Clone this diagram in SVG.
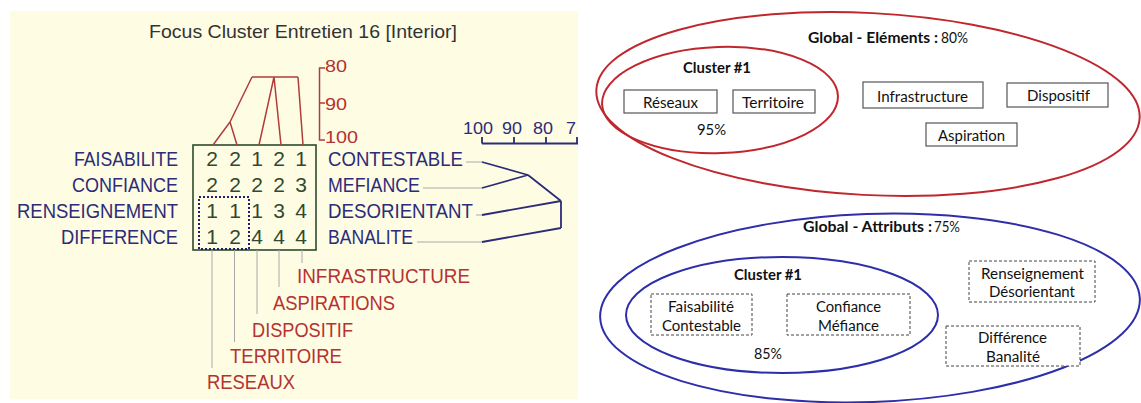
<svg xmlns="http://www.w3.org/2000/svg" width="1141" height="403" viewBox="0 0 1141 403">
<style>
.lt{font-family:"Liberation Sans",Arial,sans-serif;font-size:21px}
.nv{fill:#2c2c78}
.rd{fill:#b53232}
.num{fill:#33482f;text-anchor:middle}
.sc{font-family:"Liberation Sans",Arial,sans-serif;font-size:17px}
.rt{font-family:Lato,"Open Sans",sans-serif;font-size:15.5px;fill:#111}
.b{font-weight:bold}
.box{fill:#fff;stroke:#555;stroke-width:1.2}
.dbox{fill:#fff;stroke:#444;stroke-width:1;stroke-dasharray:3,2}
.lead{stroke:#a8a8a8;stroke-width:1;fill:none}
.rl{stroke:#b03c3c;stroke-width:1.5;fill:none}
.bl{stroke:#2c2c78;stroke-width:1.8;fill:none}
.re{fill:none;stroke:#c0272d;stroke-width:2}
.be{fill:none;stroke:#2e2eaa;stroke-width:2}
</style>
<defs>
<clipPath id="lp"><rect x="10" y="11" width="568" height="388"/></clipPath>
</defs>
<rect width="1141" height="403" fill="#fff"/>
<g id="left-panel" clip-path="url(#lp)">
<rect x="10" y="11" width="568" height="388" fill="#fefde4"/>
<text x="149" y="38" font-family="Liberation Sans,Arial,sans-serif" font-size="19" fill="#333" textLength="308" lengthAdjust="spacingAndGlyphs">Focus Cluster Entretien 16 [Interior]</text>
<g id="scale-top">
<path class="rl" d="M325,68 L319.5,68 L319.5,140 L325,140 M319.5,103 L325,103"/>
<text class="sc rd" x="325" y="72" textLength="22" lengthAdjust="spacingAndGlyphs">80</text>
<text class="sc rd" x="325" y="110" textLength="22" lengthAdjust="spacingAndGlyphs">90</text>
<text class="sc rd" x="325" y="143" textLength="33" lengthAdjust="spacingAndGlyphs">100</text>
</g>
<g id="scale-right">
<text class="sc nv" x="463" y="134" textLength="30" lengthAdjust="spacingAndGlyphs">100</text>
<text class="sc nv" x="502" y="134" textLength="20" lengthAdjust="spacingAndGlyphs">90</text>
<text class="sc nv" x="533" y="134" textLength="20" lengthAdjust="spacingAndGlyphs">80</text>
<text class="sc nv" x="566" y="134" textLength="10" lengthAdjust="spacingAndGlyphs">7</text>
<path class="bl" d="M482,143.5 L580,143.5 M482,137 L482,143.5 M514,137 L514,143.5 M546,137 L546,143.5 M577,137 L577,143.5"/>
</g>
<g id="grid">
<rect x="193" y="145" width="123" height="105" fill="none" stroke="#2c4a2c" stroke-width="1.6"/>
<rect x="199" y="197" width="50" height="52" fill="none" stroke="#1f1f70" stroke-width="2" stroke-dasharray="2,2"/>
<g class="lt num">
<text x="212" y="166">2</text><text x="235" y="166">2</text><text x="257" y="166">1</text><text x="279" y="166">2</text><text x="301" y="166">1</text>
<text x="212" y="191.5">2</text><text x="235" y="191.5">2</text><text x="257" y="191.5">2</text><text x="279" y="191.5">2</text><text x="301" y="191.5">3</text>
<text x="212" y="218">1</text><text x="235" y="218">1</text><text x="257" y="218">1</text><text x="279" y="218">3</text><text x="301" y="218">4</text>
<text x="212" y="243.5">1</text><text x="235" y="243.5">2</text><text x="257" y="243.5">4</text><text x="279" y="243.5">4</text><text x="301" y="243.5">4</text>
</g>
</g>
<g id="row-labels" class="lt nv">
<text x="74" y="166" textLength="104" lengthAdjust="spacingAndGlyphs">FAISABILITE</text>
<text x="72" y="191.5" textLength="106" lengthAdjust="spacingAndGlyphs">CONFIANCE</text>
<text x="17" y="218" textLength="161" lengthAdjust="spacingAndGlyphs">RENSEIGNEMENT</text>
<text x="61" y="243.5" textLength="117" lengthAdjust="spacingAndGlyphs">DIFFERENCE</text>
<text x="328" y="166" textLength="135" lengthAdjust="spacingAndGlyphs">CONTESTABLE</text>
<text x="328" y="191.5" textLength="92" lengthAdjust="spacingAndGlyphs">MEFIANCE</text>
<text x="328" y="218" textLength="145" lengthAdjust="spacingAndGlyphs">DESORIENTANT</text>
<text x="328" y="243.5" textLength="85" lengthAdjust="spacingAndGlyphs">BANALITE</text>
</g>
<g id="col-labels" class="lt rd">
<text x="297" y="283" textLength="173" lengthAdjust="spacingAndGlyphs">INFRASTRUCTURE</text>
<text x="273" y="310" textLength="122" lengthAdjust="spacingAndGlyphs">ASPIRATIONS</text>
<text x="252" y="337" textLength="101" lengthAdjust="spacingAndGlyphs">DISPOSITIF</text>
<text x="230" y="363" textLength="112" lengthAdjust="spacingAndGlyphs">TERRITOIRE</text>
<text x="207" y="389" textLength="88" lengthAdjust="spacingAndGlyphs">RESEAUX</text>
</g>
<g id="connectors-left">
<path class="lead" d="M212,250 L212,368 M234.5,250 L234.5,342 M257,250 L257,314 M279,250 L279,287 M302,250 L302,263"/>
<path class="rl" d="M213,145 L230,122 M237,145 L230,122 M230,122 L252,77 M252,77 L298,77 M259,145 L274,77 M281,145 L274,77 M303,145 L298,77"/>
<path class="lead" d="M466,162 L482,162 M423,188 L482,188 M476,215 L482,215 M417,242 L482,242"/>
<path class="bl" d="M482,162 L528,175 M482,188 L528,175 M528,175 L561,201 M482,215 L561,201 M561,201 L561,228 M482,242 L561,228"/>
</g>
</g>
<g id="elements">
<ellipse class="re" cx="868" cy="104" rx="272" ry="91" transform="rotate(3 868 104)"/>
<text class="rt b" x="808" y="43" textLength="130" lengthAdjust="spacingAndGlyphs">Global - Eléments :</text>
<text class="rt" x="941" y="43" textLength="27" lengthAdjust="spacingAndGlyphs">80%</text>
<g id="cluster-elements">
<ellipse class="re" cx="720" cy="100" rx="118" ry="53" transform="rotate(-2 720 100)"/>
<text class="rt b" x="683" y="73" textLength="68" lengthAdjust="spacingAndGlyphs">Cluster #1</text>
<text class="rt" x="697" y="135" textLength="29" lengthAdjust="spacingAndGlyphs">95%</text>
</g>
<g id="reseaux"><rect class="box" x="624" y="90" width="93" height="23"/><text class="rt" x="643" y="107.5" textLength="55" lengthAdjust="spacingAndGlyphs">Réseaux</text></g>
<g id="territoire"><rect class="box" x="733" y="90" width="82" height="23"/><text class="rt" x="742" y="107.5" textLength="62" lengthAdjust="spacingAndGlyphs">Territoire</text></g>
<g id="infrastructure"><rect class="box" x="863" y="82" width="120" height="26"/><text class="rt" x="877" y="102" textLength="91" lengthAdjust="spacingAndGlyphs">Infrastructure</text></g>
<g id="dispositif"><rect class="box" x="1007" y="83" width="101" height="24"/><text class="rt" x="1027" y="101" textLength="63" lengthAdjust="spacingAndGlyphs">Dispositif</text></g>
<g id="aspiration"><rect class="box" x="926" y="123" width="91" height="23"/><text class="rt" x="938" y="141" textLength="67" lengthAdjust="spacingAndGlyphs">Aspiration</text></g>
</g>
<g id="attributs">
<ellipse class="be" cx="870" cy="308" rx="270" ry="94" transform="rotate(-2 870 308)"/>
<text class="rt b" x="803" y="232" textLength="129" lengthAdjust="spacingAndGlyphs">Global - Attributs :</text>
<text class="rt" x="934" y="232" textLength="26" lengthAdjust="spacingAndGlyphs">75%</text>
<g id="cluster-attributs">
<ellipse class="be" cx="782" cy="315" rx="156" ry="58"/>
<text class="rt b" x="734" y="280" textLength="68" lengthAdjust="spacingAndGlyphs">Cluster #1</text>
<text class="rt" x="754" y="359" textLength="28" lengthAdjust="spacingAndGlyphs">85%</text>
</g>
<g id="faisabilite"><rect class="dbox" x="651" y="294" width="101" height="41"/>
<text class="rt" x="668" y="312" textLength="66" lengthAdjust="spacingAndGlyphs">Faisabilité</text>
<text class="rt" x="662" y="330.5" textLength="79" lengthAdjust="spacingAndGlyphs">Contestable</text></g>
<g id="confiance"><rect class="dbox" x="787" y="294" width="123" height="41"/>
<text class="rt" x="816" y="312" textLength="65" lengthAdjust="spacingAndGlyphs">Confiance</text>
<text class="rt" x="818" y="330.5" textLength="61" lengthAdjust="spacingAndGlyphs">Méfiance</text></g>
<g id="renseignement"><rect class="dbox" x="969" y="261" width="126" height="41"/>
<text class="rt" x="981" y="279" textLength="103" lengthAdjust="spacingAndGlyphs">Renseignement</text>
<text class="rt" x="989" y="297" textLength="86" lengthAdjust="spacingAndGlyphs">Désorientant</text></g>
<g id="difference"><rect class="dbox" x="946" y="326" width="134" height="40"/>
<text class="rt" x="978" y="343" textLength="69" lengthAdjust="spacingAndGlyphs">Différence</text>
<text class="rt" x="986" y="362" textLength="54" lengthAdjust="spacingAndGlyphs">Banalité</text></g>
</g>
</svg>
